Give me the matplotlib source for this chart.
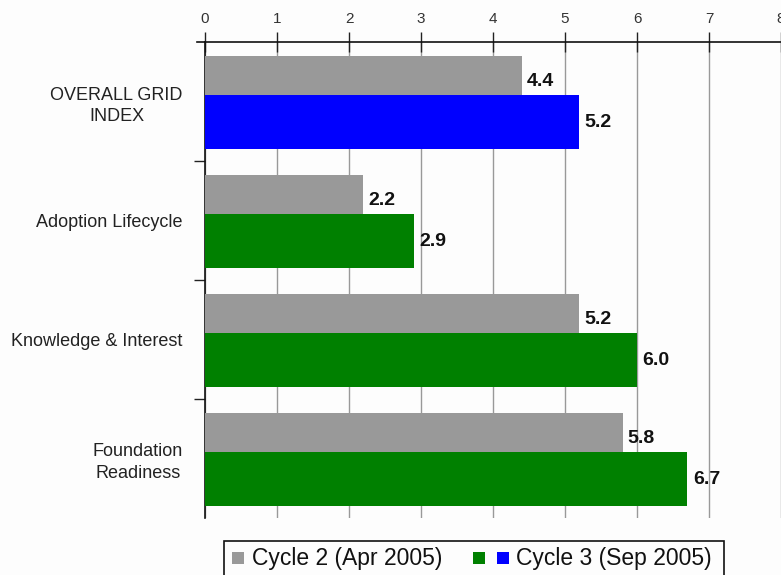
import matplotlib
matplotlib.use("Agg")
import matplotlib.pyplot as plt
from matplotlib.patches import Rectangle
from matplotlib.lines import Line2D
import numpy as np

categories = ["OVERALL GRID\nINDEX", "Adoption Lifecycle", "Knowledge & Interest", "Foundation\nReadiness"]
cycle2 = [4.4, 2.2, 5.2, 5.8]
cycle3 = [5.2, 2.9, 6.0, 6.7]
cycle3_colors = ["#0000ff", "#008000", "#008000", "#008000"]
xticks = [0, 1, 2, 3, 4, 5, 6, 7, 8]
legend_labels = ["Cycle 2 (Apr 2005)", "Cycle 3 (Sep 2005)"]

plt.rcParams["font.family"] = ["Liberation Sans", "DejaVu Sans"]

W, H = 781, 575
fig = plt.figure(figsize=(W / 100, H / 100), dpi=100)
fig.patch.set_facecolor("#fdfdfd")
ax = fig.add_axes([205 / W, 1 - 518 / H, 576 / W, (518 - 42) / H])
ax.set_facecolor("#fdfdfd")

y = np.arange(len(categories))
gray_off, gray_h = -0.216, 0.33
col_off, col_h = 0.174, 0.45

ax.barh(y + gray_off, cycle2, height=gray_h, color="#999999", zorder=3)
ax.barh(y + col_off, cycle3, height=col_h, color=cycle3_colors, zorder=3)

for i in range(len(categories)):
    ax.text(cycle2[i] + 0.07, y[i] + gray_off + 0.05, f"{cycle2[i]:.1f}", va="center", ha="left",
            fontsize=14, fontweight="bold", color="#111111", zorder=5)
    ax.text(cycle3[i] + 0.075, y[i] + col_off, f"{cycle3[i]:.1f}", va="center", ha="left",
            fontsize=14, fontweight="bold", color="#111111", zorder=5)

ax.set_xlim(0, 8)
ax.set_ylim(len(categories) - 0.5, -0.5)
ax.xaxis.tick_top()
ax.set_xticks(xticks)
ax.set_xticklabels([str(t) for t in xticks], fontsize=11, color="#333333")
ax.tick_params(axis="x", direction="inout", length=14, width=1, color="#222222", pad=4.5)
ax.grid(axis="x", color="#999999", linewidth=1, zorder=0)

ax.set_yticks(y)
ax.set_yticklabels(categories, fontsize=13, color="#222222", multialignment="center", linespacing=1.35)
ax.tick_params(axis="y", length=0, pad=16)
ax.set_yticks([0.5, 1.5, 2.5], minor=True)
ax.tick_params(axis="y", which="minor", length=8, width=1, color="#222222", direction="out")

for s in ["right", "bottom"]:
    ax.spines[s].set_visible(False)
for s in ["top", "left"]:
    ax.spines[s].set_color("#111111")
    ax.spines[s].set_linewidth(1.2)
ax.add_line(Line2D([-0.014, 0], [1, 1], transform=ax.transAxes, color="#111111", lw=1.2, clip_on=False))

# legend drawn manually (frame, swatches, texts)
def fx(px):
    return px / W

def fy(py):
    return 1 - py / H

tf = fig.transFigure
fig.add_artist(Rectangle((fx(224), fy(585)), fx(724) - fx(224), fy(541) - fy(585), transform=tf,
                         facecolor="#fdfdfd", edgecolor="#111111", linewidth=1.2, clip_on=False))
sq = 12
for x0, col in [(232, "#999999"), (473, "#008000"), (497, "#0000ff")]:
    fig.add_artist(Rectangle((fx(x0), fy(552 + sq)), sq / W, sq / H, transform=tf,
                             facecolor=col, edgecolor="none"))
fig.text(fx(252), fy(559), legend_labels[0], fontsize=16.5, color="#111111", va="center", ha="left")
fig.text(fx(516), fy(559), legend_labels[1], fontsize=16.5, color="#111111", va="center", ha="left")

fig.savefig("out.png", dpi=100, facecolor=fig.get_facecolor())
